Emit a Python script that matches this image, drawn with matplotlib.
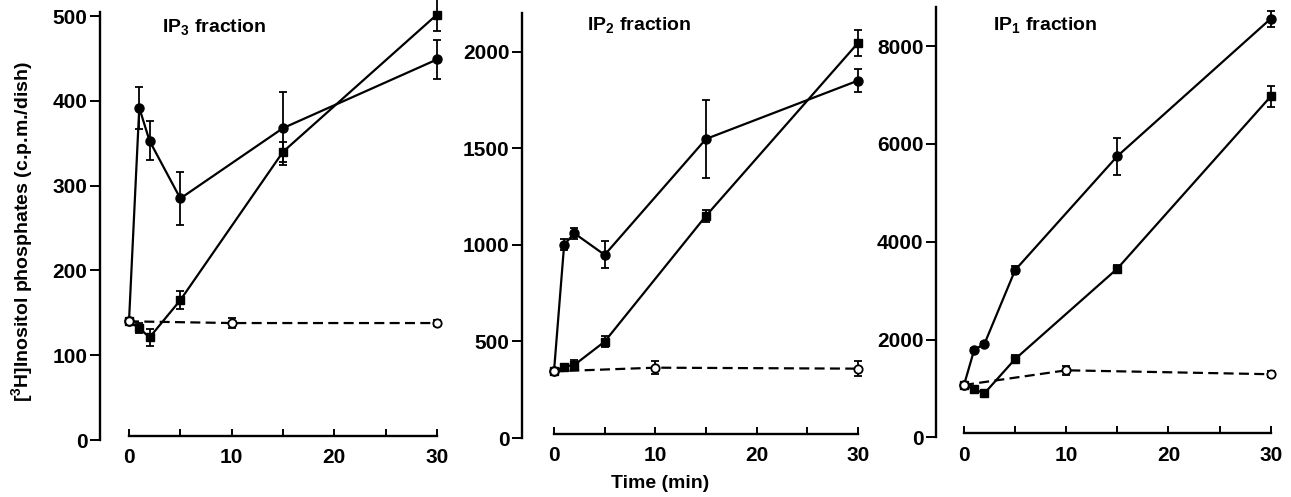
import matplotlib
matplotlib.use("Agg")
import matplotlib.pyplot as plt

plt.rcParams['font.family'] = ['Liberation Sans', 'DejaVu Sans']
plt.rcParams['font.weight'] = 'bold'
plt.rcParams['mathtext.fontset'] = 'custom'
plt.rcParams['mathtext.rm'] = 'Liberation Sans:bold'
plt.rcParams['mathtext.default'] = 'rm'

W, H = 1291, 497

# ---------------- data ----------------
times_stim = [0, 1, 2, 5, 15, 30]
times_ctrl = [0, 10, 30]

# IP3 fraction
ip3_circ = [140, 392, 353, 285, 368, 449]
ip3_circ_err = [0, 25, 23, 31, 43, 23]
ip3_sq = [140, 132, 121, 165, 340, 502]
ip3_sq_err = [0, 6, 10, 11, 12, 20]
ip3_ctrl = [140, 138, 138]
ip3_ctrl_err = [3, 6, 3]

# IP2 fraction
ip2_circ = [345, 1000, 1060, 948, 1548, 1850]
ip2_circ_err = [0, 28, 28, 70, 200, 60]
ip2_sq = [345, 370, 378, 499, 1150, 2045]
ip2_sq_err = [0, 15, 25, 30, 30, 65]
ip2_ctrl = [345, 364, 359]
ip2_ctrl_err = [10, 35, 38]

# IP1 fraction
ip1_circ = [1070, 1790, 1910, 3420, 5750, 8560]
ip1_circ_err = [0, 40, 40, 90, 380, 160]
ip1_sq = [1070, 980, 900, 1600, 3450, 6970]
ip1_sq_err = [0, 40, 40, 80, 70, 220]
ip1_ctrl = [1070, 1370, 1290]
ip1_ctrl_err = [40, 90, 60]

x_ticks_major = [0, 10, 20, 30]
x_ticks_minor = [5, 15, 25]

panels = [
    dict(title="IP$_3$ fraction", circ=ip3_circ, circ_err=ip3_circ_err,
         sq=ip3_sq, sq_err=ip3_sq_err, ctrl=ip3_ctrl, ctrl_err=ip3_ctrl_err,
         yticks=[0, 100, 200, 300, 400, 500],
         px=(100, 129, 437, 445), py=(440, 12), ymax=505, title_xy=(162, 32)),
    dict(title="IP$_2$ fraction", circ=ip2_circ, circ_err=ip2_circ_err,
         sq=ip2_sq, sq_err=ip2_sq_err, ctrl=ip2_ctrl, ctrl_err=ip2_ctrl_err,
         yticks=[0, 500, 1000, 1500, 2000],
         px=(522, 554, 858, 866), py=(438, 13), ymax=2200, title_xy=(587, 30)),
    dict(title="IP$_1$ fraction", circ=ip1_circ, circ_err=ip1_circ_err,
         sq=ip1_sq, sq_err=ip1_sq_err, ctrl=ip1_ctrl, ctrl_err=ip1_ctrl_err,
         yticks=[0, 2000, 4000, 6000, 8000],
         px=(936, 964, 1270.7, 1279), py=(437.3, 7), ymax=8800, title_xy=(993, 30)),
]

fig = plt.figure(figsize=(W / 100, H / 100), dpi=100)

FS = 14
TFS = 15
LW = 1.6
for p in panels:
    sx, x0, x30, xr = p['px']
    yb, yt = p['py']
    scale = (x30 - x0) / 30.0
    xmin = -(x0 - sx) / scale
    xmax = 30 + (xr - x30) / scale
    ax = fig.add_axes([sx / W, (H - yb) / H, (xr - sx) / W, (yb - yt) / H])
    ax.set_xlim(xmin, xmax)
    ax.set_ylim(0, p['ymax'])

    ax.errorbar(times_stim, p['circ'], yerr=p['circ_err'], color='black', lw=LW,
                marker='o', ms=6.5, mfc='black', mec='black', capsize=3, elinewidth=1.3,
                capthick=1.3, clip_on=False, zorder=3)
    ax.errorbar(times_stim, p['sq'], yerr=p['sq_err'], color='black', lw=LW,
                marker='s', ms=5.5, mfc='black', mec='black', capsize=3, elinewidth=1.3,
                capthick=1.3, clip_on=False, zorder=3)
    line = ax.errorbar(times_ctrl, p['ctrl'], yerr=p['ctrl_err'], color='black', lw=LW,
                       marker='o', ms=6, mfc='white', mec='black', mew=1.3, capsize=3,
                       elinewidth=1.3, capthick=1.3, clip_on=False, zorder=4)
    line[0].set_dashes((4.5, 2.4))

    for s in ['top', 'right']:
        ax.spines[s].set_visible(False)
    ax.spines['left'].set_linewidth(1.7)
    ax.spines['bottom'].set_linewidth(1.7)
    ax.spines['bottom'].set_bounds(0, 30)
    ax.spines['bottom'].set_position(('outward', -3))

    ax.set_xticks(x_ticks_major)
    ax.set_xticks(x_ticks_minor, minor=True)
    ax.set_xticklabels([str(v) for v in x_ticks_major])
    ax.tick_params(axis='x', which='both', direction='in', length=5, width=1.4, pad=9,
                   labelsize=TFS)
    ax.set_yticks(p['yticks'])
    ax.set_yticklabels([str(v) for v in p['yticks']])
    ax.tick_params(axis='y', direction='out', length=7, width=1.4, pad=2, labelsize=TFS)

    tx, ty = p['title_xy']
    fig.text(tx / W, (H - ty) / H, p['title'], fontsize=FS, ha='left', va='baseline')

fig.text(22 / W, (H - 232) / H, "[$^3$H]Inositol phosphates (c.p.m./dish)", rotation=90,
         fontsize=FS, ha='center', va='center')
fig.text(660 / W, (H - 483) / H, "Time (min)", fontsize=FS, ha='center', va='center')

fig.savefig("out.png", dpi=100)
